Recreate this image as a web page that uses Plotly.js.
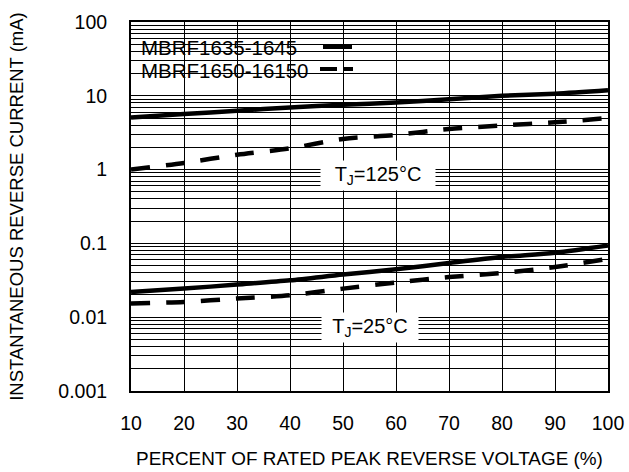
<!DOCTYPE html>
<html>
<head>
<meta charset="utf-8">
<script src="https://cdn.plot.ly/plotly-3.0.1.min.js"></script>
<style>html,body{margin:0;padding:0;background:#fff;}#chart{width:629px;height:472px;}</style>
</head>
<body>
<div id="chart"></div>
<script>
// Data
const percentVoltage = [10, 20, 30, 40, 50, 60, 70, 80, 90, 100];
const mbrf1635_125C = [5.1, 5.66, 6.27, 6.95, 7.56, 8.1, 9.0, 10.0, 10.7, 11.9];
const mbrf1650_125C = [1.0, 1.23, 1.59, 1.94, 2.6, 2.95, 3.55, 3.96, 4.37, 5.0];
const mbrf1635_25C = [0.0220, 0.0244, 0.0277, 0.0316, 0.0378, 0.0445, 0.0542, 0.0653, 0.0748, 0.094];
const mbrf1650_25C = [0.0153, 0.0161, 0.0179, 0.0198, 0.0244, 0.0295, 0.035, 0.0397, 0.0478, 0.062];
const yTickVals = [0.001, 0.01, 0.1, 1, 10, 100];
const yTickText = ["0.001", "0.01", "0.1", "1", "10", "100"];
const xTickVals = [10, 20, 30, 40, 50, 60, 70, 80, 90, 100];
const legendNames = ["MBRF1635-1645", "MBRF1650-16150"];
const tempLabels = ["T<sub>J</sub>=125°C", "T<sub>J</sub>=25°C"];

const minorVals = [];
for (let e = -3; e < 2; e++) {
  for (let d = 2; d <= 9; d++) minorVals.push(d * Math.pow(10, e));
}

const FONT = '"Liberation Sans", Arial, Helvetica, sans-serif';
const solid = {color: '#000', width: 4.5, shape: 'spline', smoothing: 0.8};
const dashed = {color: '#000', width: 4.5, dash: '19px,16px', shape: 'spline', smoothing: 0.8};

const traces = [
  {x: percentVoltage, y: mbrf1635_125C, mode: 'lines', line: solid, name: legendNames[0]},
  {x: percentVoltage, y: mbrf1650_125C, mode: 'lines', line: dashed, name: legendNames[1]},
  {x: percentVoltage, y: mbrf1635_25C, mode: 'lines', line: solid, name: legendNames[0]},
  {x: percentVoltage, y: mbrf1650_25C, mode: 'lines', line: dashed, name: legendNames[1]}
];

const layout = {
  width: 629, height: 472,
  margin: {l: 131, r: 21, t: 22, b: 81},
  paper_bgcolor: '#fff', plot_bgcolor: '#fff',
  showlegend: false,
  font: {family: FONT, color: '#000', size: 19.5},
  xaxis: {
    range: [10, 100], tickvals: xTickVals, ticktext: xTickVals.map(String),
    showgrid: true, gridcolor: '#000', gridwidth: 1,
    showline: true, linecolor: '#000', linewidth: 2, mirror: 'ticks',
    ticks: 'inside', ticklen: 5, tickcolor: '#000', tickwidth: 1,
    ticklabelstandoff: 14,
    zeroline: false,
    tickfont: {size: 19.5},
    title: {text: 'PERCENT OF RATED PEAK REVERSE VOLTAGE (%)', font: {size: 18.9}, standoff: 18}
  },
  yaxis: {
    type: 'log', range: [-3, 2], tickvals: yTickVals, ticktext: yTickText,
    showgrid: true, gridcolor: '#000', gridwidth: 1,
    showline: true, linecolor: '#000', linewidth: 2, mirror: 'ticks',
    ticks: 'inside', ticklen: 5, tickcolor: '#000', tickwidth: 1,
    ticklabelstandoff: 18,
    zeroline: false,
    tickfont: {size: 19.5},
    minor: {tickvals: minorVals, showgrid: true, gridcolor: '#000', gridwidth: 1,
            ticks: 'inside', ticklen: 5, tickcolor: '#000', tickwidth: 1},
    title: {text: 'INSTANTANEOUS REVERSE CURRENT (mA)', font: {size: 18.5}, standoff: 30}
  },
  shapes: [
    // legend box hiding the grid
    {type: 'rect', xref: 'paper', yref: 'paper', x0: 0, x1: 0.476, y0: 0.81, y1: 1,
     fillcolor: '#fff', line: {width: 0}, layer: 'between'},
    // legend samples
    {type: 'line', xref: 'paper', yref: 'paper', x0: (323 - 131) / 477, x1: (352 - 131) / 477,
     y0: (391 - 47) / 369, y1: (391 - 47) / 369, line: {color: '#000', width: 4}},
    {type: 'line', xref: 'paper', yref: 'paper', x0: (320 - 131) / 477, x1: (353 - 131) / 477,
     y0: (391 - 69) / 369, y1: (391 - 69) / 369, line: {color: '#000', width: 4, dash: '17px,7px'}}
  ],
  annotations: [
    {xref: 'paper', yref: 'paper', x: (139 - 131) / 477, y: (391 - 47) / 369, xanchor: 'left', yanchor: 'middle',
     text: legendNames[0], showarrow: false, font: {size: 20.5}},
    {xref: 'paper', yref: 'paper', x: (139 - 131) / 477, y: (391 - 70) / 369, xanchor: 'left', yanchor: 'middle',
     text: legendNames[1], showarrow: false, font: {size: 20.5}},
    {xref: 'x', yref: 'y', x: 56.6, y: -0.081, text: tempLabels[0], showarrow: false,
     bgcolor: '#fff', width: 110, height: 25, borderpad: 2, font: {size: 20}},
    {xref: 'x', yref: 'y', x: 55.0, y: -2.135, text: tempLabels[1], showarrow: false,
     bgcolor: '#fff', width: 92, height: 25, borderpad: 2, font: {size: 20}}
  ]
};

Plotly.newPlot('chart', traces, layout, {displayModeBar: false, staticPlot: true});
</script>
</body>
</html>
